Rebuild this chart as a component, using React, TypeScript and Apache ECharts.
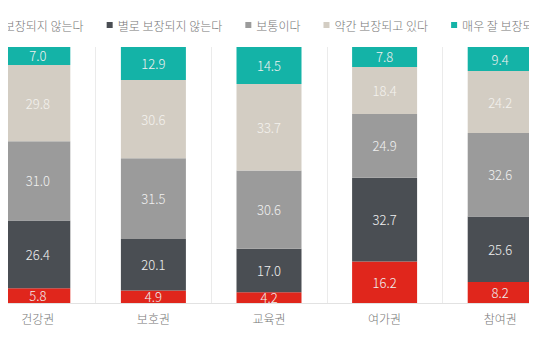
import React, { useEffect, useRef } from "react";
import * as echarts from "echarts";

const categories = ["건강권", "보호권", "교육권", "여가권", "참여권"];
const seriesNames = ["전혀 보장되지 않는다", "별로 보장되지 않는다", "보통이다", "약간 보장되고 있다", "매우 잘 보장되고 있다"];
const notAtAll = [5.8, 4.9, 4.2, 16.2, 8.2];
const notMuch = [26.4, 20.1, 17.0, 32.7, 25.6];
const neutral = [31.0, 31.5, 30.6, 24.9, 32.6];
const somewhat = [29.8, 30.6, 33.7, 18.4, 24.2];
const veryWell = [7.0, 12.9, 14.5, 7.8, 9.4];
const colors = ["#e0261c", "#4a4e53", "#9b9b9b", "#d3cdc3", "#14b3a7"];

export default function App() {
  const ref = useRef<HTMLDivElement>(null);
  useEffect(() => {
    const chart = echarts.init(ref.current!, null, { renderer: "svg" });
    const data = [notAtAll, notMuch, neutral, somewhat, veryWell];
    const font = "'Noto Sans CJK KR', 'Noto Sans', sans-serif";
    chart.setOption({
      animation: false,
      color: colors,
      textStyle: { fontFamily: font },
      legend: {
        left: 3,
        top: 14,
        width: 900,
        itemWidth: 6,
        itemHeight: 6,
        itemGap: 23,
        icon: "rect",
        textStyle: { color: "#777", fontSize: 12, fontFamily: font, fontWeight: 300 },
        data: seriesNames,
      },
      grid: { left: 20, right: 20, top: 47, bottom: 57, containLabel: false },
      xAxis: {
        type: "category",
        data: categories,
        axisLine: { lineStyle: { color: "#e2e2e2" } },
        axisTick: { show: false },
        splitLine: { show: true, lineStyle: { color: "#ebebeb" } },
        axisLabel: { color: "#777", fontSize: 12, margin: 9, fontFamily: font, fontWeight: 300 },
      },
      yAxis: { type: "value", min: 0, max: 100, show: false, splitLine: { show: false } },
      series: seriesNames.map((name, i) => ({
        name,
        type: "bar",
        stack: "total",
        barWidth: 65,
        data: data[i],
        label: {
          show: true,
          position: "inside",
          color: i === 3 ? "#f4f2ee" : "#f0f0f0",
          fontSize: 13,
          fontFamily: font,
          fontWeight: 300,
          formatter: (p: any) => p.value.toFixed(1),
        },
      })),
    });
    return () => chart.dispose();
  }, []);
  return (
    <div style={{ width: 537, height: 360, margin: -8, overflow: "hidden", position: "relative" }}>
      <div ref={ref} style={{ width: 618, height: 360, position: "absolute", left: -40, top: 0 }} />
    </div>
  );
}
